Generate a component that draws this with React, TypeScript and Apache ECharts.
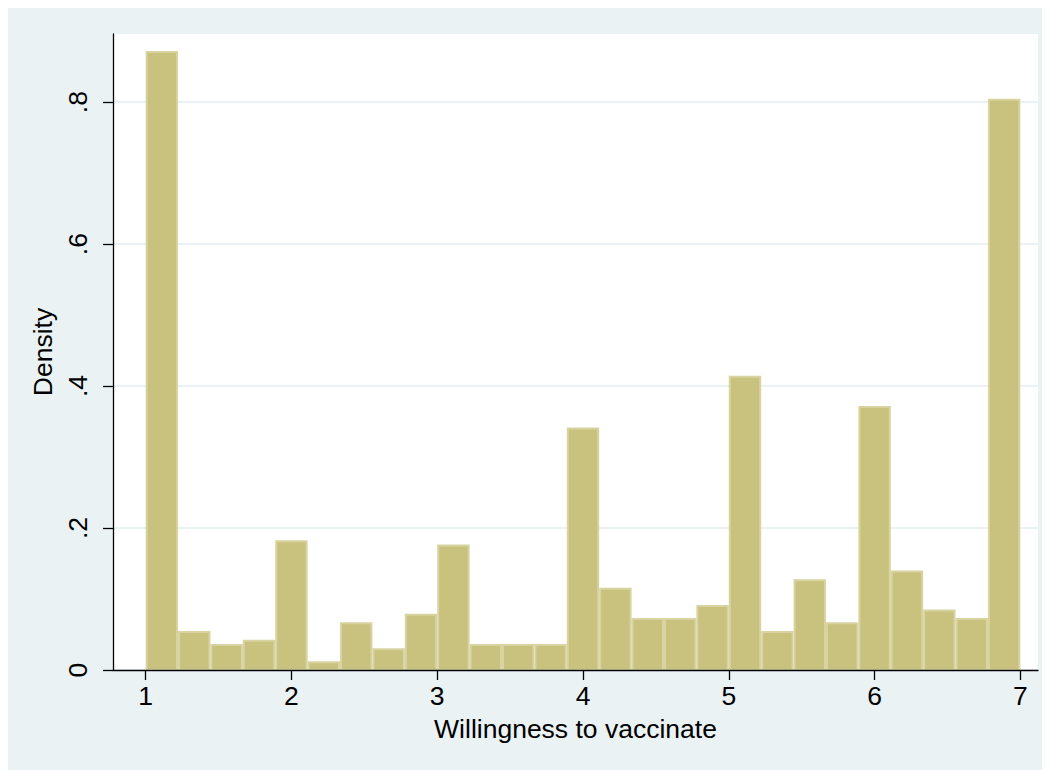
import React, { useEffect, useRef } from "react";
import * as echarts from "echarts";

// Histogram of willingness to vaccinate: 27 equal-width bins from 1 to 7.
const rangeStart = 1;
const rangeEnd = 7;
const densities = [
  0.872, 0.0549, 0.0366, 0.0427, 0.1829, 0.0122, 0.0671, 0.0305, 0.0793,
  0.1768, 0.0366, 0.0366, 0.0366, 0.3415, 0.1159, 0.0732, 0.0732, 0.0915,
  0.4146, 0.0549, 0.128, 0.0671, 0.372, 0.1402, 0.0854, 0.0732, 0.8049,
];
const xTickValues = [1, 2, 3, 4, 5, 6, 7];
const yTickValues = [0, 0.2, 0.4, 0.6, 0.8];
const yTickLabels = ["0", ".2", ".4", ".6", ".8"];

const FONT = "'Liberation Sans', Arial, Helvetica, sans-serif";
const BG = "#eaf2f3";

export default function App() {
  const ref = useRef<HTMLDivElement>(null);

  useEffect(() => {
    if (!ref.current) return;
    const chart = echarts.init(ref.current, undefined, { renderer: "svg" });
    const binWidth = (rangeEnd - rangeStart) / densities.length;
    const bins = densities.map((d, i) => [
      rangeStart + i * binWidth,
      rangeStart + (i + 1) * binWidth,
      d,
    ]);

    chart.setOption({
      animation: false,
      backgroundColor: BG,
      grid: {
        left: 105,
        right: 12,
        top: 26,
        bottom: 100,
        show: true,
        backgroundColor: "#ffffff",
        borderWidth: 0,
      },
      xAxis: {
        type: "value",
        min: 0.776,
        max: 7.121,
        z: 10,
        name: "Willingness to vaccinate",
        nameLocation: "middle",
        nameGap: 45,
        nameTextStyle: { fontFamily: FONT, fontSize: 26.5, color: "#000" },
        axisLine: { show: true, onZero: false, lineStyle: { color: "#000", width: 1.3 } },
        axisTick: {
          show: true,
          length: 10,
          customValues: xTickValues,
          lineStyle: { color: "#000", width: 1.3 },
        },
        axisLabel: {
          customValues: xTickValues,
          margin: 12,
          fontFamily: FONT,
          fontSize: 26.5,
          color: "#000",
          formatter: (v: number) => String(v),
        },
        splitLine: { show: false },
      },
      yAxis: {
        type: "value",
        min: 0,
        max: 0.896,
        interval: 0.2,
        name: "Density",
        nameLocation: "middle",
        nameGap: 54,
        nameTextStyle: { fontFamily: FONT, fontSize: 26.5, color: "#000" },
        axisLine: { show: true, lineStyle: { color: "#000", width: 1.3 } },
        axisTick: {
          show: true,
          length: 10,
          customValues: yTickValues,
          lineStyle: { color: "#000", width: 1.3 },
        },
        axisLabel: {
          customValues: yTickValues,
          rotate: 90,
          margin: 22,
          fontFamily: FONT,
          fontSize: 26.5,
          color: "#000",
          formatter: (v: number) => {
            const i = yTickValues.findIndex((t) => Math.abs(t - v) < 1e-9);
            return i >= 0 ? yTickLabels[i] : "";
          },
        },
        splitLine: { show: true, lineStyle: { color: BG, width: 2 } },
      },
      series: [
        {
          type: "custom",
          data: bins,
          encode: { x: [0, 1], y: 2 },
          renderItem: (params: any, api: any) => {
            const topLeft = api.coord([api.value(0), api.value(2)]);
            const bottomRight = api.coord([api.value(1), 0]);
            return {
              type: "rect",
              shape: {
                x: topLeft[0] + 1,
                y: topLeft[1] + 1,
                width: bottomRight[0] - topLeft[0] - 2,
                height: bottomRight[1] - topLeft[1] - 1,
              },
              style: { fill: "#c9c27f", stroke: "#d8d3a0", lineWidth: 2 },
            };
          },
        },
      ],
    });

    return () => chart.dispose();
  }, []);

  return <div ref={ref} style={{ width: 1042, height: 762 }} />;
}
